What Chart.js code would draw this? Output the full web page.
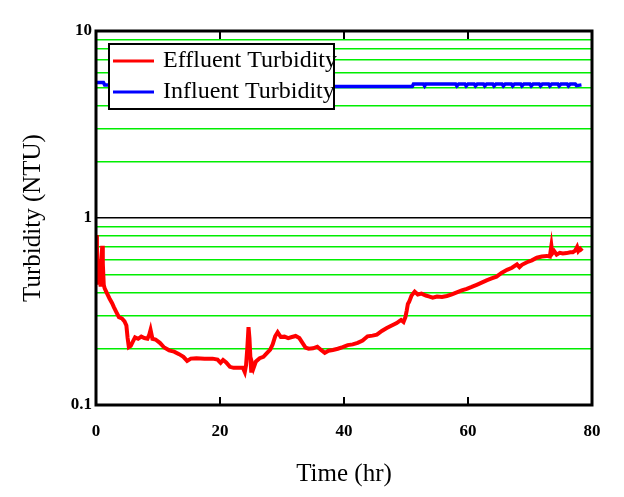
<!DOCTYPE html>
<html lang="en">
<head>
<meta charset="UTF-8">
<title>Turbidity vs Time</title>
<script src="https://cdn.jsdelivr.net/npm/chart.js@4.4.0/dist/chart.umd.js"></script>
<style>
  html, body { margin: 0; padding: 0; background: #ffffff; }
  #chart { display: block; }
</style>
</head>
<body>
<canvas id="chart" width="624" height="497"></canvas>
<script>
// Effluent turbidity (NTU), time in hours
const effluentTime = [0, 0.15, 0.3, 0.45, 0.6, 0.75, 0.9, 1.0, 1.1, 1.25, 1.4, 1.7, 2.2, 2.6, 2.9, 3.3, 3.7, 4.2, 4.6, 4.9,
  5.1, 5.3, 5.6, 5.9, 6.3, 6.8, 7.3, 7.8, 8.3, 8.6, 8.8, 9.1, 9.6, 10.3, 11.0, 11.8, 12.6, 13.4, 14.1, 14.7,
  15.3, 16.2, 17.5, 18.8, 19.6, 20.1, 20.5, 21.0, 21.6, 22.2, 23.0, 23.7, 24.0, 24.2, 24.4, 24.6, 24.75, 24.9, 25.05, 25.2,
  25.4, 25.8, 26.4, 27.0, 27.6, 28.1, 28.5, 28.9, 29.3, 29.8, 30.4, 31.0, 31.6, 32.2, 32.8, 33.3, 33.8, 34.3, 35.0, 35.7,
  36.3, 36.9, 37.5, 38.2, 39.0, 39.8, 40.6, 41.4, 42.2, 43.0, 43.8, 44.6, 45.3, 46.1, 46.9, 47.7, 48.5, 49.2, 49.6, 49.9,
  50.1, 50.3, 50.5, 50.9, 51.4, 51.9, 52.5, 53.2, 53.8, 54.3, 55.0, 55.8, 56.6, 57.4, 58.2, 59.0, 59.8, 60.6, 61.4, 62.2,
  63.0, 63.8, 64.6, 65.4, 66.3, 67.1, 67.9, 68.3, 68.7, 69.5, 70.3, 71.1, 71.9, 72.7, 73.2, 73.45, 73.6, 73.9, 74.3, 74.8,
  75.3, 75.9, 76.5, 76.9, 77.3, 77.6, 77.8, 78.1, 78.4];
const effluentNtu = [0.81, 0.70, 0.55, 0.44, 0.49, 0.43, 0.59, 0.71, 0.57, 0.44, 0.42, 0.40, 0.37, 0.35, 0.333, 0.313, 0.295, 0.29, 0.28, 0.266,
  0.228, 0.204, 0.207, 0.217, 0.23, 0.226, 0.232, 0.228, 0.226, 0.238, 0.252, 0.226, 0.224, 0.215, 0.203, 0.196, 0.193, 0.187, 0.181, 0.172,
  0.177, 0.178, 0.177, 0.177, 0.175, 0.168, 0.174, 0.169, 0.16, 0.158, 0.158, 0.158, 0.15, 0.163, 0.2, 0.261, 0.228, 0.18, 0.149, 0.166,
  0.157, 0.171, 0.178, 0.181, 0.19, 0.198, 0.211, 0.233, 0.245, 0.231, 0.232, 0.228, 0.231, 0.234, 0.228, 0.215, 0.203, 0.2, 0.201, 0.205,
  0.197, 0.19, 0.195, 0.197, 0.2, 0.204, 0.209, 0.211, 0.215, 0.221, 0.233, 0.235, 0.238, 0.249, 0.258, 0.266, 0.274, 0.285, 0.278, 0.295,
  0.318, 0.347, 0.356, 0.385, 0.404, 0.39, 0.394, 0.385, 0.38, 0.375, 0.38, 0.378, 0.383, 0.39, 0.4, 0.41, 0.418, 0.428, 0.439, 0.451,
  0.464, 0.475, 0.486, 0.508, 0.528, 0.542, 0.565, 0.546, 0.562, 0.58, 0.594, 0.613, 0.622, 0.627, 0.622, 0.71, 0.646, 0.665, 0.637, 0.651,
  0.646, 0.649, 0.656, 0.656, 0.67, 0.7, 0.665, 0.684, 0.665];

// Influent turbidity (NTU)
const influentTime = [0, 1.2, 1.4, 3.0, 3.3, 51.0, 51.2, 52.8, 53.0, 53.2, 56.0, 58.0, 58.2, 58.5, 59.5, 59.7, 60.0, 61.0, 61.2, 61.5,
  62.5, 62.7, 63.0, 64.0, 64.2, 64.5, 65.5, 65.7, 66.0, 67.0, 67.2, 67.5, 68.5, 68.7, 69.0, 70.0, 70.2, 70.5, 71.5, 71.7,
  72.0, 73.0, 73.2, 73.5, 74.5, 74.7, 75.0, 76.0, 76.2, 76.5, 77.3, 77.5, 78.3];
const influentNtu = [5.3, 5.3, 5.15, 5.15, 5.05, 5.05, 5.2, 5.2, 5.08, 5.2, 5.2, 5.2, 5.08, 5.2, 5.2, 5.08, 5.2, 5.2, 5.08, 5.2,
  5.2, 5.08, 5.2, 5.2, 5.08, 5.2, 5.2, 5.08, 5.2, 5.2, 5.08, 5.2, 5.2, 5.08, 5.2, 5.2, 5.08, 5.2, 5.2, 5.08,
  5.2, 5.2, 5.08, 5.2, 5.2, 5.08, 5.2, 5.2, 5.08, 5.2, 5.2, 5.1, 5.15];

const seriesLabels = ['Effluent Turbidity', 'Influent Turbidity'];
const xTicks = [0, 20, 40, 60, 80];
const yGridTicks = [0.1, 0.2, 0.3, 0.4, 0.5, 0.6, 0.7, 0.8, 0.9, 1, 2, 3, 4, 5, 6, 7, 8, 9, 10];
const yLabelTicks = [0.1, 1, 10];

const toPoints = (xs, ys) => xs.map((x, i) => ({ x, y: ys[i] }));

// plot frame plus inward x tick marks
const framePlugin = {
  id: 'frame',
  afterDatasetsDraw(chart) {
    const { ctx, chartArea: a, scales: { x } } = chart;
    ctx.save();
    ctx.strokeStyle = '#000';
    ctx.lineWidth = 2;
    xTicks.forEach(v => {
      const px = x.getPixelForValue(v);
      ctx.beginPath();
      ctx.moveTo(px, a.bottom);
      ctx.lineTo(px, a.bottom - 8);
      ctx.moveTo(px, a.top);
      ctx.lineTo(px, a.top + 8);
      ctx.stroke();
    });
    ctx.lineWidth = 3;
    ctx.strokeRect(a.left, a.top, a.right - a.left, a.bottom - a.top);
    ctx.restore();
  }
};

// boxed legend sitting inside the plot
const boxLegend = {
  id: 'boxLegend',
  afterDatasetsDraw(chart) {
    const { ctx, chartArea: a } = chart;
    const left = a.left + 13, top = a.top + 13, w = 225, h = 65;
    ctx.save();
    ctx.fillStyle = '#fff';
    ctx.fillRect(left, top, w, h);
    ctx.strokeStyle = '#000';
    ctx.lineWidth = 2;
    ctx.strokeRect(left, top, w, h);
    ctx.font = '24px "Liberation Serif", "Times New Roman", serif';
    ctx.textBaseline = 'middle';
    chart.data.datasets.forEach((ds, i) => {
      const y = top + 17 + i * 31;
      ctx.strokeStyle = ds.borderColor;
      ctx.lineWidth = 3;
      ctx.beginPath();
      ctx.moveTo(left + 4, y);
      ctx.lineTo(left + 45, y);
      ctx.stroke();
      ctx.fillStyle = '#000';
      ctx.fillText(ds.label, left + 54, y);
    });
    ctx.restore();
  }
};

const tickFont = { family: '"Liberation Serif", "Times New Roman", serif', size: 17, weight: 'bold' };
const titleFont = { family: '"Liberation Serif", "Times New Roman", serif', size: 25 };

new Chart(document.getElementById('chart'), {
  type: 'line',
  data: {
    datasets: [{
      label: seriesLabels[0],
      data: toPoints(effluentTime, effluentNtu),
      borderColor: '#ff0000',
      borderWidth: 4,
      pointRadius: 0,
      tension: 0
    }, {
      label: seriesLabels[1],
      data: toPoints(influentTime, influentNtu),
      borderColor: '#0000ff',
      borderWidth: 3.5,
      pointRadius: 0,
      tension: 0
    }]
  },
  options: {
    responsive: false,
    animation: false,
    devicePixelRatio: 1,
    layout: { padding: { top: 31, right: 32, left: 0, bottom: 0 } },
    plugins: {
      legend: { display: false },
      tooltip: { enabled: false }
    },
    scales: {
      x: {
        type: 'linear',
        min: 0,
        max: 80,
        afterBuildTicks: scale => { scale.ticks = xTicks.map(v => ({ value: v })); },
        afterFit: scale => { scale.height = 92; },
        grid: { display: false },
        border: { display: false },
        ticks: { color: '#000', font: tickFont, padding: 8, maxRotation: 0 },
        title: { display: true, text: 'Time (hr)', color: '#000', font: titleFont, padding: { top: 0, bottom: 8 } }
      },
      y: {
        type: 'logarithmic',
        min: 0.1,
        max: 10,
        afterBuildTicks: scale => { scale.ticks = yGridTicks.map(v => ({ value: v })); },
        afterFit: scale => { scale.width = 96; },
        grid: {
          drawTicks: false,
          lineWidth: 1.5,
          color: ctx => {
            const v = ctx.tick ? ctx.tick.value : null;
            if (v === 0.1 || v === 10) return 'rgba(0,0,0,0)';
            if (v === 1) return '#000000';
            return '#00ee00';
          }
        },
        border: { display: false },
        ticks: {
          color: '#000',
          font: tickFont,
          padding: 4,
          autoSkip: false,
          callback: value => yLabelTicks.includes(value) ? String(value) : ''
        },
        title: { display: true, text: 'Turbidity (NTU)', color: '#000', font: titleFont, padding: { top: 18, bottom: 0 } }
      }
    }
  },
  plugins: [framePlugin, boxLegend]
});
</script>
</body>
</html>
